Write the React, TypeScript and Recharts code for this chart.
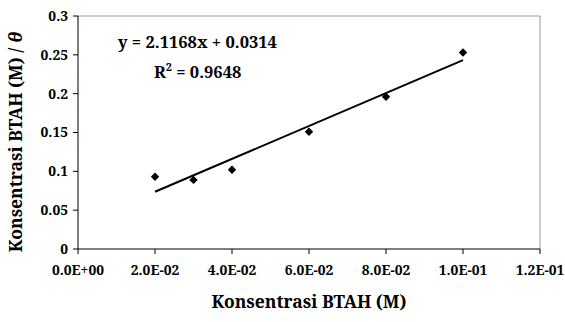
import { ComposedChart, Scatter, Line, XAxis, YAxis, ReferenceLine, Label, Customized } from 'recharts';

const concentration = [0.02, 0.03, 0.04, 0.06, 0.08, 0.1];
const ratio = [0.093, 0.089, 0.102, 0.151, 0.196, 0.253];
const trendX = [0.02, 0.1];
const trendY = [0.0737, 0.2431];
const xTicks = [0, 0.02, 0.04, 0.06, 0.08, 0.1, 0.12];
const yTicks = [0, 0.05, 0.1, 0.15, 0.2, 0.25, 0.3];

const points = concentration.map((x, i) => ({ x, y: ratio[i] }));
const trend = trendX.map((x, i) => ({ x, y: trendY[i] }));

const FONT = '"Noto Serif", serif';

const sci = (v: number) => {
  const [m, e] = v.toExponential(1).split('e');
  return m + 'E' + e[0] + e.slice(1).padStart(2, '0');
};

// small square diamond like the Excel marker
const Diamond = (props: any) => {
  const { cx, cy } = props;
  const r = 4.2;
  return <path d={`M${cx},${cy - r}L${cx + r},${cy}L${cx},${cy + r}L${cx - r},${cy}Z`} fill="#000" />;
};

function Equation() {
  return (
    <g style={{ fontFamily: FONT, fontWeight: 'bold', fontSize: 16.5 }} fill="#000">
      <text x={118} y={48}>y = 2.1168x + 0.0314</text>
      <text x={154} y={78}>
        R<tspan dy={-7} fontSize={11}>2</tspan>
        <tspan dy={7}> = 0.9648</tspan>
      </text>
    </g>
  );
}

export default function App() {
  const tickStyle = { fontFamily: FONT, fontWeight: 'bold', fontSize: 13.8, fill: '#000' };
  return (
    <div style={{ position: 'absolute', left: 0, top: 0, background: '#fff', fontFamily: FONT, fontWeight: 'bold' }}>
      <ComposedChart width={565} height={322} margin={{ top: 16, right: 25, left: 0, bottom: 0 }}>
        <XAxis
          dataKey="x"
          type="number"
          domain={[0, 0.12]}
          ticks={xTicks}
          tickFormatter={sci}
          height={73}
          stroke="#000"
          tickSize={5}
          tick={tickStyle}
          tickMargin={11}
          allowDataOverflow
        >
          <Label
            value="Konsentrasi BTAH (M)"
            position="insideBottom"
            offset={14}
            style={{ fontFamily: FONT, fontWeight: 'bold', fontSize: 17.5, fill: '#000' }}
          />
        </XAxis>
        <YAxis
          dataKey="y"
          type="number"
          domain={[0, 0.3]}
          ticks={yTicks}
          width={78}
          stroke="#000"
          tickSize={5}
          tickMargin={5}
          tick={tickStyle}
          allowDataOverflow
        >
          <Label
            content={() => (
              <text
                x={22}
                y={142}
                transform="rotate(-90 22 142)"
                textAnchor="middle"
                fontFamily={FONT}
                fontWeight="bold"
                fontSize={17.5}
                fill="#000"
              >
                Konsentrasi BTAH (M) / <tspan fontStyle="italic">θ</tspan>
              </text>
            )}
          />
        </YAxis>
        <ReferenceLine y={0.3} stroke="#999" strokeWidth={1} />
        <ReferenceLine x={0.12} stroke="#999" strokeWidth={1} />
        <Line
          data={trend}
          dataKey="y"
          stroke="#000"
          strokeWidth={2}
          dot={false}
          activeDot={false}
          isAnimationActive={false}
        />
        <Scatter data={points} dataKey="y" fill="#000" shape={Diamond} legendType="none" isAnimationActive={false} />
        <Customized component={Equation} />
      </ComposedChart>
    </div>
  );
}
